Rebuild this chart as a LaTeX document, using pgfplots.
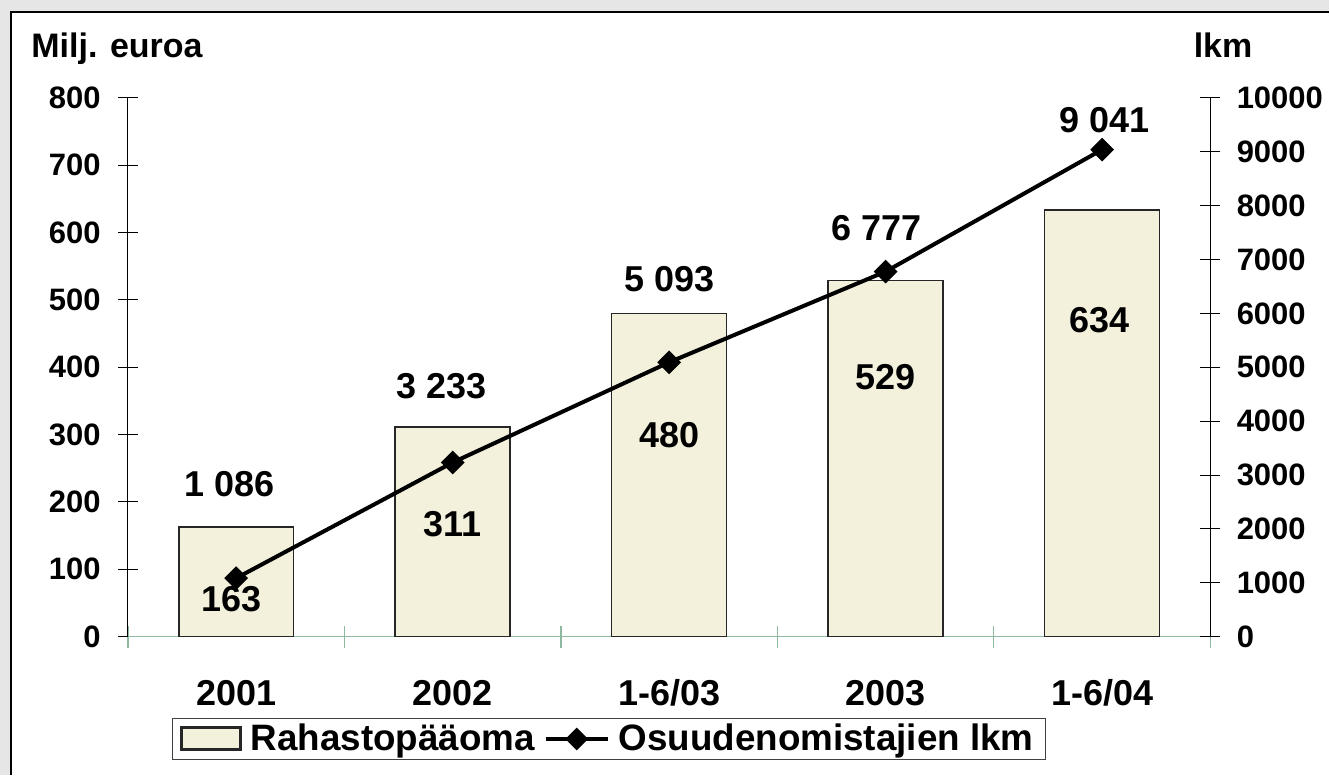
\documentclass[border=0pt]{standalone}
\usepackage{fontspec}
\setmainfont{Liberation Sans}
\usepackage{pgfplots}
\pgfplotsset{compat=1.18}
\definecolor{barfill}{RGB}{243,240,220}
\definecolor{xgreen}{RGB}{140,185,160}
\definecolor{bggray}{RGB}{230,230,230}
\newcommand{\fs}[1]{\fontsize{#1}{#1}\selectfont\bfseries}
\pgfplotsset{
  mybarlegend/.style={legend image code/.code={\draw[##1, line width=1.5pt] (0pt,-5.5pt) rectangle (29.5pt,5.5pt); \path (32pt,0pt);}},
  mylinelegend/.style={legend image code/.code={\draw[##1, mark repeat=2, mark phase=2] plot coordinates {(0pt,0pt) (15.5pt,0pt) (31pt,0pt)}; \path (33.5pt,0pt);}},
}
\begin{document}
\begin{tikzpicture}
\fill[bggray] (-64pt,-69pt) rectangle (601pt,318.5pt);
\fill[white] (-58.5pt,-69pt) rectangle (601pt,312.5pt);
\draw[black, line width=0.7pt] (-58.5pt,-69pt) -- (-58.5pt,312.5pt) -- (601pt,312.5pt);
\useasboundingbox (-64pt,-69pt) rectangle (601pt,318.5pt);
\begin{axis}[
  scale only axis, width=541.5pt, height=269.5pt,
  xmin=-0.5, xmax=4.5, ymin=0, ymax=800,
  clip=false,
  axis x line=bottom, axis y line=left,
  axis line style={-},
  x axis line style={draw=xgreen, line width=0.6pt},
  y axis line style={draw=black, line width=0.5pt},
  xtick={0,1,2,3,4},
  xticklabels={2001,2002,1-6/03,2003,1-6/04},
  minor xtick={-0.5,0.5,1.5,2.5,3.5,4.5},
  major x tick style={draw=none},
  minor x tick style={draw=xgreen, line width=0.6pt},
  minor tick length=11pt,
  ytick={0,100,...,800},
  y tick style={draw=black, line width=0.5pt},
  major tick length=10pt,
  tick align=center,
  xticklabel style={font=\fs{18}, anchor=center, inner sep=0pt, yshift=-23pt},
  yticklabel style={font=\fs{15.5}, anchor=east, inner sep=0pt, xshift=-8.5pt},
  /pgf/number format/assume math mode=true,
  legend style={at={(axis description cs:0.0406,-0.1503)}, anchor=north west,
    legend columns=2, draw=black!75, line width=0.5pt, font=\fs{18.4},
    inner xsep=4pt, inner ysep=1pt,
    /tikz/every even column/.append style={column sep=2.5pt}},
  legend cell align=left,
]
\addplot[ybar, bar width=57.5pt, fill=barfill, draw=black!85, line width=0.8pt, mybarlegend]
  coordinates {(0,163) (1,311) (2,480) (3,529) (4,634)};
\addlegendentry{Rahastopääoma}
\addlegendimage{black, line width=2pt, mark=square*, mark size=3pt, mark options={rotate=45}, mylinelegend}
\addlegendentry{Osuudenomistajien lkm}
\node[font=\fs{18}, inner sep=0pt] at (axis cs:-0.03,227.1) {1 086};
\node[font=\fs{18}, inner sep=0pt] at (axis cs:0.95,372.5) {3 233};
\node[font=\fs{18}, inner sep=0pt] at (axis cs:2.0,531.4) {5 093};
\node[font=\fs{18}, inner sep=0pt] at (axis cs:2.96,607.1) {6 777};
\node[font=\fs{18}, inner sep=0pt] at (axis cs:4.01,767.3) {9 041};
\node[font=\fs{18}, inner sep=0pt] at (axis cs:-0.02,56.4) {163};
\node[font=\fs{18}, inner sep=0pt] at (axis cs:1.0,167.7) {311};
\node[font=\fs{18}, inner sep=0pt] at (axis cs:2.0,299.8) {480};
\node[font=\fs{18}, inner sep=0pt] at (axis cs:3.0,385.9) {529};
\node[font=\fs{18}, inner sep=0pt] at (axis cs:3.99,470.5) {634};
\end{axis}
\begin{axis}[
  scale only axis, width=541.5pt, height=269.5pt,
  xmin=-0.5, xmax=4.5, ymin=0, ymax=10000,
  clip=false,
  axis x line=none, axis y line=right,
  axis line style={-},
  y axis line style={draw=black, line width=0.5pt},
  ytick={0,1000,...,10000},
  y tick style={draw=black, line width=0.5pt},
  major tick length=10pt,
  tick align=center,
  scaled y ticks=false,
  yticklabel style={font=\fs{15.5}, anchor=west, inner sep=0pt, xshift=8pt},
  /pgf/number format/assume math mode=true,
  /pgf/number format/1000 sep={},
]
\addplot[black, line width=2pt, mark=square*, mark size=3.2pt, mark options={rotate=45}]
  coordinates {(0,1086) (1,3233) (2,5093) (3,6777) (4,9041)};
\end{axis}
\node[font=\fs{17}, anchor=base west, inner sep=0pt] at (-48.5pt,289.5pt) {Milj. euroa};
\node[font=\fs{17}, anchor=base west, inner sep=0pt] at (533pt,289.5pt) {lkm};
\end{tikzpicture}
\end{document}
